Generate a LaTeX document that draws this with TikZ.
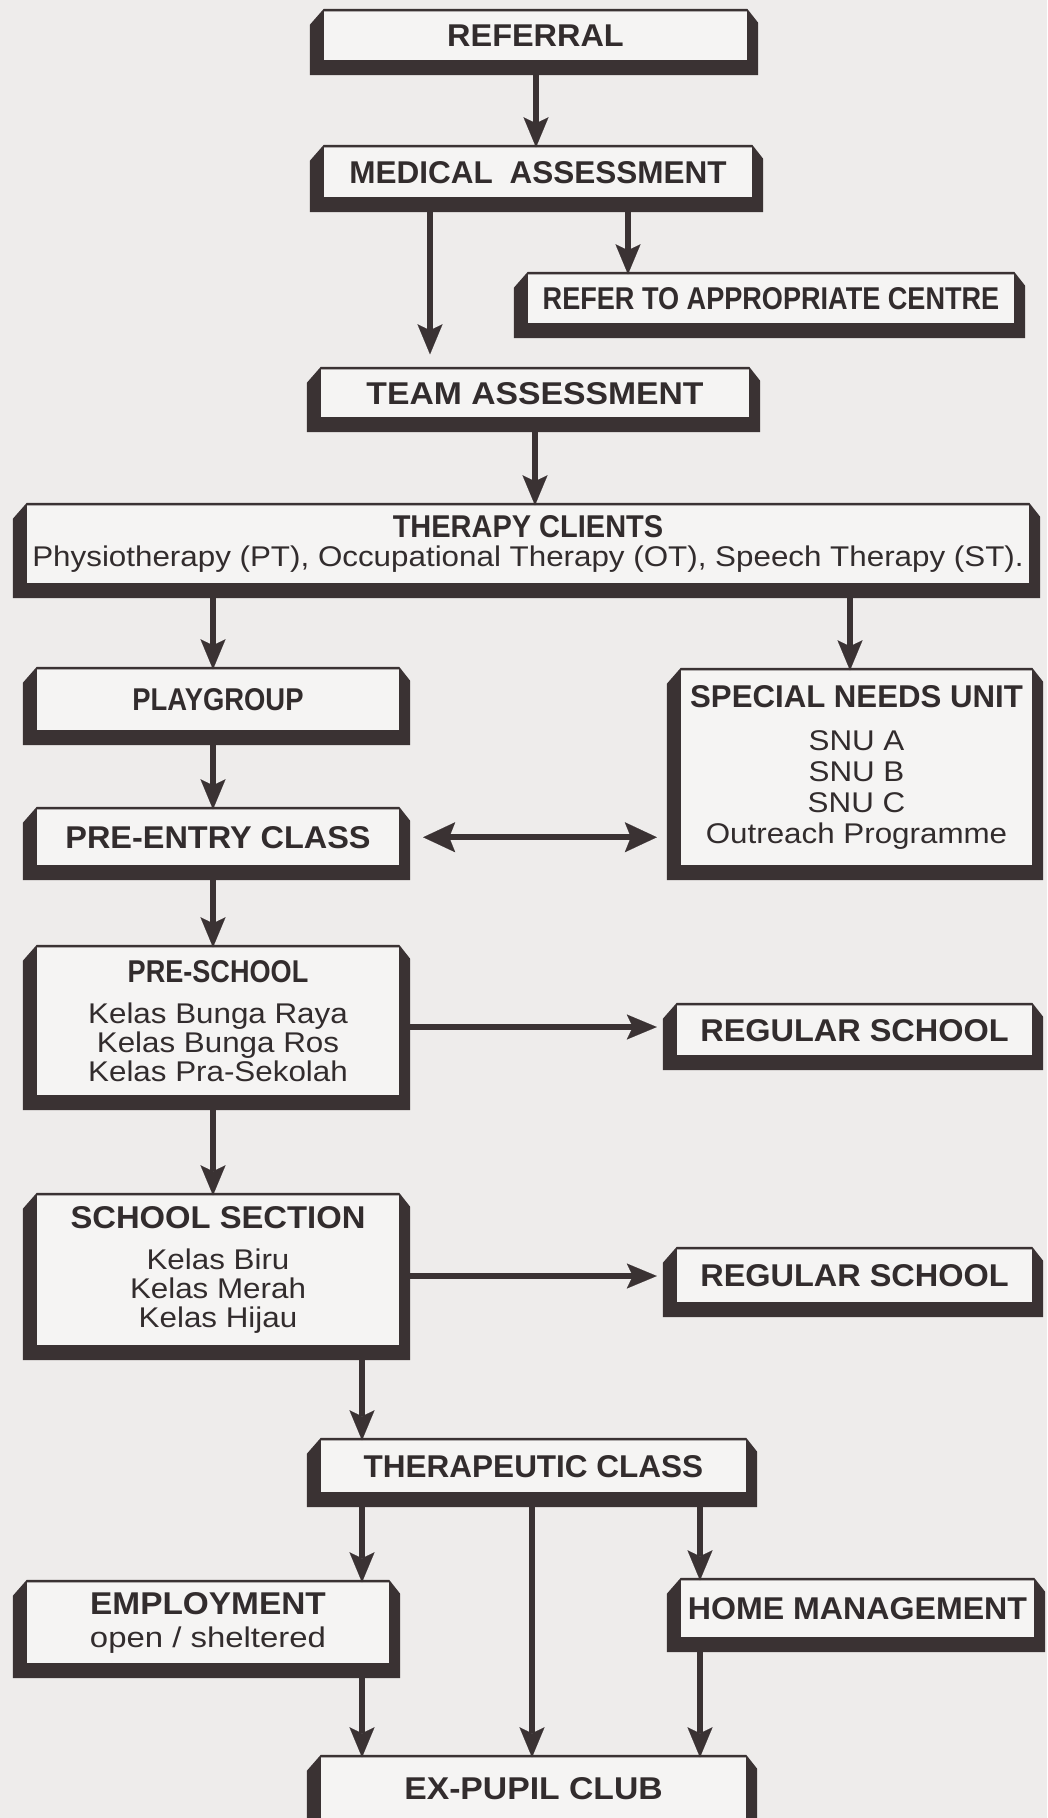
\documentclass[tikz,border=0pt]{standalone}
\usepackage{fontspec}
\usepackage{graphicx}
\setmainfont{Liberation Sans}[FakeStretch=1.1]
\newfontfamily\ttlfamily{Liberation Sans}
\usetikzlibrary{arrows.meta}
\definecolor{bgc}{RGB}{238,236,235}
\definecolor{inc}{RGB}{245,244,243}
\definecolor{drk}{RGB}{58,50,51}
\definecolor{txc}{RGB}{50,44,45}
\newcommand\ttl[2]{\scalebox{#1}[1]{\ttlfamily\bfseries\fontsize{31.5}{29}\selectfont #2}}
\tikzset{
  box/.style={fill=inc, draw=none, inner sep=0pt, align=center, text=txc,
    font=\fontsize{28.5}{29}\selectfont},
  frm/.style={fill=drk, even odd rule},
  arr/.style={draw=drk, line width=5.5pt,
    -{Stealth[length=30pt,width=25pt,inset=6pt,line width=0.1pt]}},
  darr/.style={draw=drk, line width=6pt,
    {Stealth[length=32pt,width=30pt,inset=6pt,line width=0.1pt]}-{Stealth[length=32pt,width=30pt,inset=6pt,line width=0.1pt]}},
}
\newcommand\mybxframe[1]{%
  \fill[frm] ([shift={(-14pt,-13.5pt)}]#1.north west) -- ([yshift=2.5pt]#1.north west)
    -- ([yshift=2.5pt]#1.north east) -- ([shift={(11pt,-11.5pt)}]#1.north east)
    -- ([shift={(11pt,-15pt)}]#1.south east) -- ([shift={(-14pt,-15pt)}]#1.south west) -- cycle
    (#1.north west) rectangle (#1.south east);}
% name, outer left, top, right, bottom, text
\newcommand\mybxmake[6]{%
  \node[box, minimum width={(#4-#2-25)*1pt}, minimum height={(#5-#3-17.5)*1pt}]
    (#1) at ({(#2+14+#4-11)/2},{(#3+2.5+#5-15)/2}) {#6};
  \mybxframe{#1}}
\begin{document}
\begin{tikzpicture}[x=1pt,y=-1pt]
\useasboundingbox (0,0) rectangle (1047,1818);
\clip (0,0) rectangle (1047,1818);
\fill[bgc] (0,0) rectangle (1047,1818);

\mybxmake{ref}{310}{9}{758}{75}{\ttl{1.03}{REFERRAL}}
\mybxmake{med}{310}{145}{763}{212}{\ttl{1}{MEDICAL\hspace{8pt} ASSESSMENT}}
\mybxmake{refer}{514}{272}{1025}{338}{\ttl{0.86}{REFER TO APPROPRIATE CENTRE}}
\mybxmake{team}{307}{367}{760}{432}{\ttl{1.07}{TEAM ASSESSMENT}}
\mybxmake{ther}{13}{503}{1040}{598}{\ttl{0.92}{THERAPY CLIENTS}\\Physiotherapy (PT), Occupational Therapy (OT), Speech Therapy (ST).}
\mybxmake{play}{23}{667}{410}{745}{\ttl{0.87}{PLAYGROUP}}
\mybxmake{snu}{667}{668}{1043}{880}{\ttl{0.99}{SPECIAL NEEDS UNIT}\\[14pt]SNU A\\[2pt]SNU B\\[2pt]SNU C\\[2pt]Outreach Programme}
\mybxmake{pre}{23}{807}{410}{880}{\ttl{1.03}{PRE-ENTRY CLASS}}
\mybxmake{psch}{23}{945}{410}{1110}{\ttl{0.86}{PRE-SCHOOL}\\[12pt]Kelas Bunga Raya\\Kelas Bunga Ros\\Kelas Pra-Sekolah}
\mybxmake{reg1}{663}{1003}{1043}{1070}{\ttl{1.03}{REGULAR SCHOOL}}
\mybxmake{ssec}{23}{1193}{410}{1360}{\ttl{1.04}{SCHOOL SECTION}\\[12pt]Kelas Biru\\Kelas Merah\\Kelas Hijau}
\mybxmake{reg2}{663}{1247}{1043}{1317}{\ttl{1.03}{REGULAR SCHOOL}}
\mybxmake{tc}{307}{1438}{757}{1507}{\ttl{1}{THERAPEUTIC CLASS}}
\mybxmake{emp}{13}{1580}{400}{1678}{\ttl{1.06}{EMPLOYMENT}\\[4pt]\scalebox{1.05}[1]{open / sheltered}}
\mybxmake{home}{667}{1578}{1045}{1652}{\ttl{1.02}{HOME MANAGEMENT}}
\mybxmake{ex}{307}{1755}{757}{1835}{\ttl{1.07}{EX-PUPIL CLUB}}

\draw[arr] (ref.south -| 536,0) -- (med.north -| 536,0);
\draw[arr, shorten >=15pt] (med.south -| 430,0) -- (team.north -| 430,0);
\draw[arr] (med.south -| 628,0) -- (refer.north -| 628,0);
\draw[arr] (team.south -| 535,0) -- (ther.north -| 535,0);
\draw[arr] (ther.south -| 213,0) -- (play.north -| 213,0);
\draw[arr] (ther.south -| 850,0) -- (snu.north -| 850,0);
\draw[arr] (play.south -| 213,0) -- (pre.north -| 213,0);
\draw[darr] ([xshift=24pt]pre.east) -- ([xshift=-24pt]pre.east -| snu.west);
\draw[arr] (pre.south -| 213,0) -- (psch.north -| 213,0);
\draw[arr, shorten >=20pt] (psch.east |- 0,1027) -- (reg1.west |- 0,1027);
\draw[arr] (psch.south -| 213,0) -- (ssec.north -| 213,0);
\draw[arr, shorten >=20pt] (ssec.east |- 0,1276) -- (reg2.west |- 0,1276);
\draw[arr] (ssec.south -| 362,0) -- (tc.north -| 362,0);
\draw[arr] (tc.south -| 362,0) -- (emp.north -| 362,0);
\draw[arr] (tc.south -| 532,0) -- (ex.north -| 532,0);
\draw[arr] (tc.south -| 700,0) -- (home.north -| 700,0);
\draw[arr] (emp.south -| 362,0) -- (ex.north -| 362,0);
\draw[arr] (home.south -| 700,0) -- (ex.north -| 700,0);
\end{tikzpicture}
\end{document}
